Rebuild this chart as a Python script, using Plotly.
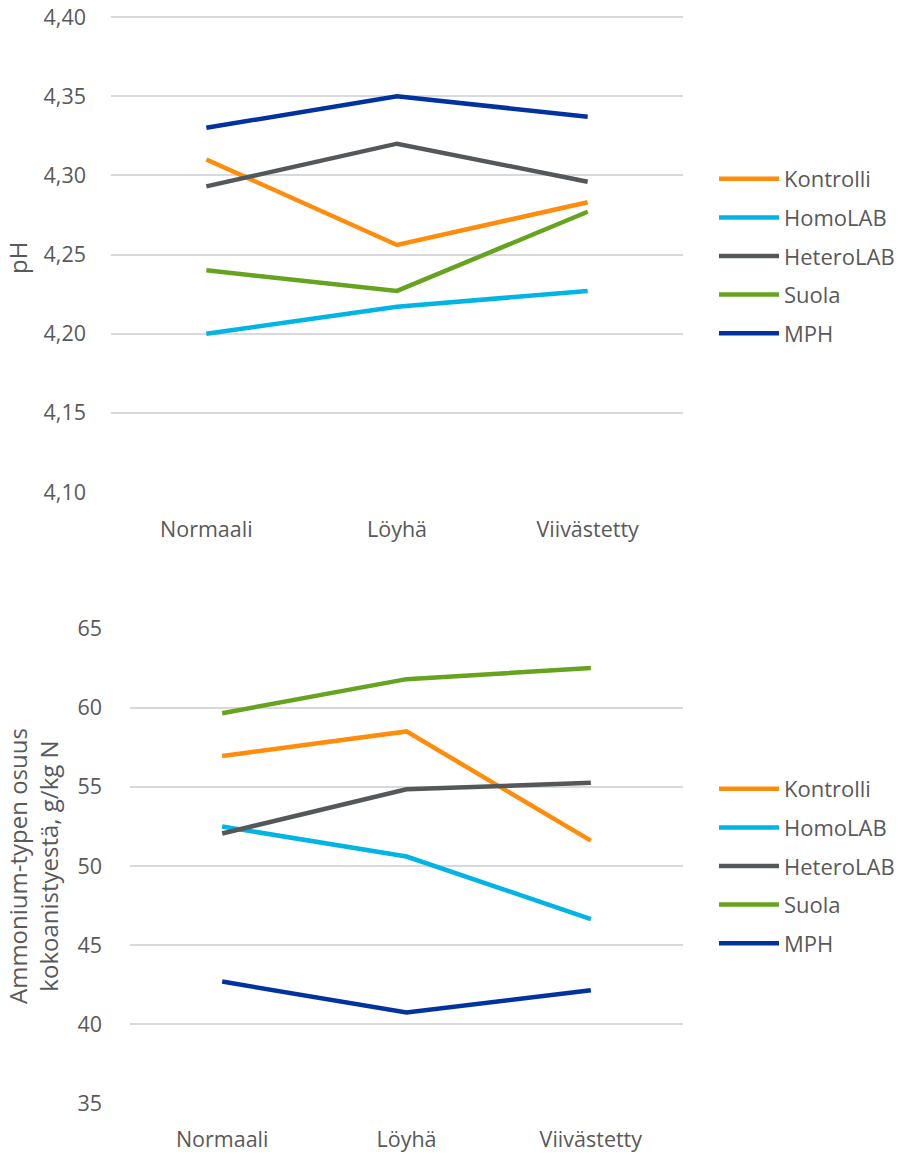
import plotly.graph_objects as go

categories = ["Normaali", "Löyhä", "Viivästetty"]
series_names = ["Kontrolli", "HomoLAB", "HeteroLAB", "Suola", "MPH"]
colors = ["#FF8C0A", "#00B4E4", "#54585A", "#66A31E", "#0033A0"]

ph_kontrolli = [4.310, 4.256, 4.283]
ph_homolab = [4.200, 4.217, 4.227]
ph_heterolab = [4.293, 4.320, 4.296]
ph_suola = [4.240, 4.227, 4.277]
ph_mph = [4.330, 4.350, 4.337]

nh_kontrolli = [56.95, 58.5, 51.6]
nh_homolab = [52.5, 50.6, 46.65]
nh_heterolab = [52.05, 54.85, 55.25]
nh_suola = [59.65, 61.8, 62.5]
nh_mph = [42.7, 40.75, 42.15]

ph_ticks = [4.10, 4.15, 4.20, 4.25, 4.30, 4.35, 4.40]
ph_ticklabels = ["4,10", "4,15", "4,20", "4,25", "4,30", "4,35", "4,40"]
nh_ticks = [35, 40, 45, 50, 55, 60, 65]

ph_title = "pH"
nh_title = "Ammonium-typen osuus<br>kokoanistyestä, g/kg N"

ph_series = [ph_kontrolli, ph_homolab, ph_heterolab, ph_suola, ph_mph]
nh_series = [nh_kontrolli, nh_homolab, nh_heterolab, nh_suola, nh_mph]

FONT = "Open Sans, Noto Sans, sans-serif"
GRAY = "#595959"
TICK = 21.5
LEG = 22

fig = go.Figure()
for name, col, vals in zip(series_names, colors, ph_series):
    fig.add_trace(go.Scatter(x=categories, y=vals, name=name, mode="lines",
                             line=dict(color=col, width=4.5),
                             xaxis="x", yaxis="y", legend="legend",
                             legendgroup="a" + name))
for name, col, vals in zip(series_names, colors, nh_series):
    fig.add_trace(go.Scatter(x=categories, y=vals, name=name, mode="lines",
                             line=dict(color=col, width=4.5),
                             xaxis="x2", yaxis="y2", legend="legend2",
                             legendgroup="b" + name))

axis_common = dict(showline=False, zeroline=False, ticks="", automargin=False,
                   ticklabeloverflow="allow",
                   tickfont=dict(family=FONT, size=TICK, color=GRAY))

fig.update_layout(
    width=898, height=1155,
    margin=dict(l=0, r=0, t=0, b=0, autoexpand=False),
    paper_bgcolor="white", plot_bgcolor="white",
    font=dict(family=FONT, color=GRAY),
    xaxis=dict(domain=[0.12361, 0.76058], anchor="y", showgrid=False,
               type="category", range=[-0.5, 2.5], ticklabelstandoff=22, **axis_common),
    yaxis=dict(domain=[0.57333, 0.98802], anchor="x", range=[4.0995, 4.402],
               tickvals=ph_ticks, ticktext=ph_ticklabels,
               showgrid=True, gridcolor="#D9D9D9", gridwidth=1.5,
               ticklabelstandoff=24, **axis_common),
    xaxis2=dict(domain=[0.14477, 0.76058], anchor="y2", showgrid=False,
                type="category", range=[-0.5, 2.5], ticklabelstandoff=21, **axis_common),
    yaxis2=dict(domain=[0.04416, 0.45628], anchor="x2", range=[34.97, 65.03],
                tickvals=nh_ticks, showgrid=True, gridcolor="#D9D9D9", gridwidth=1.5,
                ticklabelstandoff=27, **axis_common),
    annotations=[
        dict(text=ph_title, xref="paper", yref="paper", x=18 / 898, y=1 - 258 / 1155,
             textangle=-90, showarrow=False, xanchor="center", yanchor="middle",
             font=dict(family=FONT, size=24, color=GRAY)),
        dict(text=nh_title, xref="paper", yref="paper", x=33 / 898, y=1 - 866 / 1155,
             textangle=-90, showarrow=False, xanchor="center", yanchor="middle",
             font=dict(family=FONT, size=24, color=GRAY)),
    ],
    legend=dict(x=714 / 898, y=1 - 158 / 1155, xanchor="left", yanchor="top",
                font=dict(family=FONT, size=LEG, color=GRAY),
                itemwidth=60, tracegroupgap=7, bgcolor="rgba(0,0,0,0)"),
    legend2=dict(x=714 / 898, y=1 - 768 / 1155, xanchor="left", yanchor="top",
                 font=dict(family=FONT, size=LEG, color=GRAY),
                 itemwidth=60, tracegroupgap=7, bgcolor="rgba(0,0,0,0)"),
)

fig.write_html("out.html", config={"displayModeBar": False},
               post_script="document.body.style.margin='0px';")
